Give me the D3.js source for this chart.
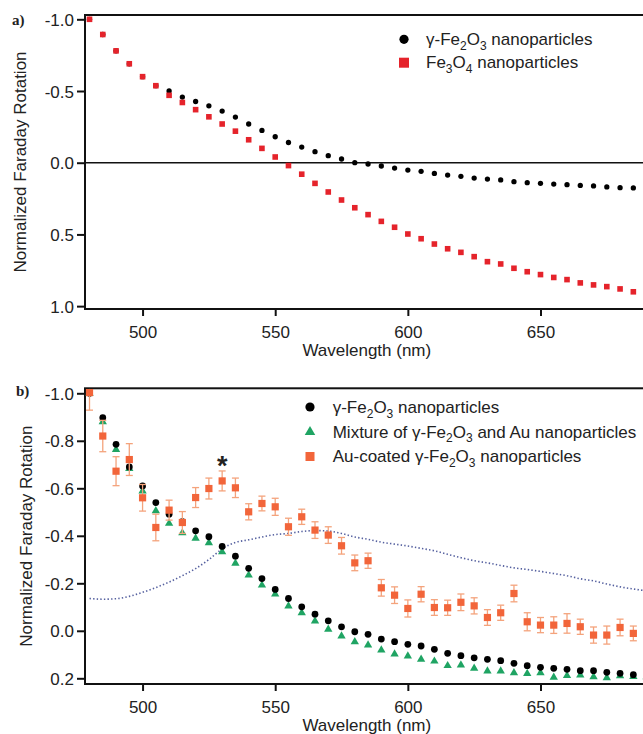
<!DOCTYPE html>
<html><head><meta charset="utf-8">
<script src="https://cdn.jsdelivr.net/npm/d3@7/dist/d3.min.js"></script>
<style>
body{margin:0;background:#fff}
svg{display:block}
text{font-family:"Liberation Sans",Arial,sans-serif;fill:#222}
</style>
</head><body>
<svg id="chart" width="643" height="734"></svg>
<script>
// ---------- data ----------
const wavelengths = [480,485,490,495,500,505,510,515,520,525,530,535,540,545,550,555,560,565,570,575,580,585,590,595,600,605,610,615,620,625,630,635,640,645,650,655,660,665,670,675,680,685,690];
const xTicks = [500,550,600,650];
const yTicksA = [-1.0,-0.5,0.0,0.5,1.0];
const yTickLabelsA = ["-1.0","-0.5","0.0","0.5","1.0"];
const yTicksB = [-1.0,-0.8,-0.6,-0.4,-0.2,0.0,0.2];
const yTickLabelsB = ["-1.0","-0.8","-0.6","-0.4","-0.2","0.0","0.2"];

// panel a
const gammaA = [-1.0,-0.894,-0.78,-0.69,-0.60,-0.537,-0.50,-0.458,-0.427,-0.397,-0.36,-0.318,-0.27,-0.225,-0.181,-0.141,-0.109,-0.077,-0.049,-0.026,0.0,0.009,0.023,0.037,0.051,0.06,0.075,0.086,0.095,0.107,0.114,0.12,0.132,0.139,0.144,0.149,0.153,0.158,0.162,0.169,0.174,0.176,0.18];
const magnetiteA = [-1.0,-0.894,-0.78,-0.69,-0.60,-0.537,-0.47,-0.42,-0.37,-0.32,-0.27,-0.22,-0.16,-0.10,-0.04,0.02,0.08,0.144,0.204,0.26,0.314,0.362,0.409,0.45,0.497,0.53,0.567,0.60,0.625,0.655,0.69,0.706,0.736,0.76,0.78,0.80,0.815,0.838,0.852,0.864,0.88,0.90,0.91];

// panel b
const gammaB = [-1.0,-0.897,-0.785,-0.69,-0.61,-0.54,-0.491,-0.46,-0.421,-0.396,-0.355,-0.314,-0.263,-0.22,-0.174,-0.136,-0.101,-0.07,-0.042,-0.017,0.004,0.015,0.035,0.046,0.057,0.064,0.078,0.095,0.105,0.114,0.12,0.126,0.137,0.147,0.154,0.158,0.162,0.168,0.168,0.175,0.179,0.185,0.19];
const mixtureB = [-1.0,-0.88,-0.763,-0.683,-0.588,-0.505,-0.452,-0.412,-0.389,-0.37,-0.332,-0.284,-0.234,-0.192,-0.154,-0.104,-0.076,-0.041,-0.006,0.022,0.046,0.06,0.081,0.098,0.106,0.12,0.128,0.147,0.144,0.158,0.17,0.17,0.177,0.18,0.177,0.196,0.189,0.186,0.194,0.198,0.19,0.193,0.194];
const coatedB = [-1.003,-0.82,-0.672,-0.721,-0.56,-0.435,-0.508,-0.456,-0.561,-0.599,-0.631,-0.602,-0.501,-0.536,-0.522,-0.438,-0.48,-0.424,-0.403,-0.358,-0.286,-0.295,-0.181,-0.15,-0.094,-0.154,-0.098,-0.097,-0.12,-0.105,-0.056,-0.076,-0.157,-0.038,-0.024,-0.024,-0.031,-0.017,0.018,0.018,-0.014,0.011,0.032];
const coatedErr = [0.074,0.066,0.061,0.067,0.056,0.056,0.042,0.046,0.042,0.044,0.042,0.041,0.034,0.031,0.036,0.036,0.032,0.035,0.035,0.035,0.033,0.032,0.035,0.035,0.036,0.032,0.033,0.032,0.035,0.034,0.033,0.032,0.035,0.038,0.032,0.035,0.041,0.032,0.034,0.038,0.035,0.031,0.035];
const absorbB = [-0.136,-0.133,-0.135,-0.145,-0.162,-0.182,-0.205,-0.232,-0.262,-0.30,-0.345,-0.372,-0.383,-0.395,-0.405,-0.41,-0.418,-0.422,-0.42,-0.41,-0.395,-0.385,-0.373,-0.365,-0.357,-0.347,-0.337,-0.322,-0.308,-0.295,-0.286,-0.275,-0.265,-0.258,-0.25,-0.241,-0.232,-0.219,-0.21,-0.197,-0.185,-0.176,-0.168];
const starWavelength = 530;

const legendA = [
  [["γ-Fe"],["2",1],["O"],["3",1],[" nanoparticles"]],
  [["Fe"],["3",1],["O"],["4",1],[" nanoparticles"]]
];
const legendB = [
  [["γ-Fe"],["2",1],["O"],["3",1],[" nanoparticles"]],
  [["Mixture of γ-Fe"],["2",1],["O"],["3",1],[" and Au nanoparticles"]],
  [["Au-coated γ-Fe"],["2",1],["O"],["3",1],[" nanoparticles"]]
];

// ---------- drawing ----------
const svg = d3.select("#chart");
const FS = 17;
const RED = "#e5232b", GREEN = "#1fa463", ORANGE = "#f2653a", ERR = "#f4a37c", BLUE = "#55609f";

const x = d3.scaleLinear().domain([478.3, 690]).range([85, 646.6]);
const yA = d3.scaleLinear().domain([-1.03, 1.02]).range([15, 309]);
const yB = d3.scaleLinear().domain([-1.021, 0.224]).range([388.3, 684]);

svg.append("defs").append("clipPath").attr("id","clipB").append("rect")
  .attr("x", 85).attr("y", 389).attr("width", 600).attr("height", 295);

function frame(top, bottom) {
  svg.append("rect").attr("x", x.range()[0]).attr("y", top)
    .attr("width", x.range()[1] - x.range()[0]).attr("height", bottom - top)
    .attr("fill", "none").attr("stroke", "#111").attr("stroke-width", 2);
}
function axes(y, ticks, labels, bottom, yTitleX) {
  const gy = svg.append("g").attr("transform", `translate(${x.range()[0]},0)`)
    .call(d3.axisLeft(y).tickValues(ticks).tickFormat((d,i)=>labels[i]).tickSize(8).tickPadding(3));
  gy.select(".domain").remove();
  gy.selectAll("line").attr("stroke","#111").attr("stroke-width",2);
  gy.selectAll("text").style("font-size", FS+"px").attr("fill","#222").attr("dy","0.36em");
  const gx = svg.append("g").attr("transform", `translate(0,${bottom})`)
    .call(d3.axisBottom(x).tickValues(xTicks).tickFormat(d3.format("d")).tickSize(7).tickPadding(10));
  gx.select(".domain").remove();
  gx.selectAll("line").attr("stroke","#111").attr("stroke-width",2);
  gx.selectAll("text").style("font-size", FS+"px").attr("fill","#222");
  svg.append("text").attr("x", (x.range()[0]+x.range()[1])/2 + 1).attr("y", bottom + 46.5)
    .attr("text-anchor","middle").style("font-size", FS+"px").text("Wavelength (nm)");
  svg.append("text").attr("transform", `translate(${yTitleX},${(y.range()[0]+y.range()[1])/2}) rotate(-90)`)
    .attr("text-anchor","middle").style("font-size", FS+"px").text("Normalized Faraday Rotation");
}
function richText(g, tx, ty, parts) {
  const t = g.append("text").attr("x", tx).attr("y", ty).style("font-size", FS+"px");
  let shifted = false;
  parts.forEach(p => {
    const ts = t.append("tspan").text(p[0]);
    if (p[1]) {
      ts.attr("dy", shifted ? 0 : 4.5).style("font-size", "12px");
      shifted = true;
    } else {
      if (shifted) ts.attr("dy", -4.5);
      shifted = false;
    }
  });
}

// ----- panel a -----
frame(15, 309);
svg.append("line").attr("x1", x.range()[0]).attr("x2", x.range()[1])
  .attr("y1", yA(0)).attr("y2", yA(0)).attr("stroke","#111").attr("stroke-width",1.5);
axes(yA, yTicksA, yTickLabelsA, 309, 26);

svg.append("g").selectAll("path").data(wavelengths).join("path")
  .attr("transform", (d,i)=>`translate(${x(d)},${yA(gammaA[i])})`)
  .attr("d", d3.symbol(d3.symbolCircle, 22)).attr("fill","#000");
svg.append("g").selectAll("rect").data(wavelengths).join("rect")
  .attr("x", d=>x(d)-2.8).attr("y",(d,i)=>yA(magnetiteA[i])-2.8)
  .attr("width",5.6).attr("height",5.6).attr("fill",RED);

const lgA = svg.append("g");
lgA.append("circle").attr("cx",404).attr("cy",39.3).attr("r",4.6).attr("fill","#000");
lgA.append("rect").attr("x",399).attr("y",57.7).attr("width",10).attr("height",10).attr("fill",RED);
richText(lgA, 426, 45, legendA[0]);
richText(lgA, 426, 68.3, legendA[1]);

svg.append("text").attr("x",12).attr("y",25).style("font-family","'Liberation Serif',serif")
  .style("font-weight","bold").style("font-size","15px").attr("fill","#111").text("a)");

// ----- panel b -----
frame(388.3, 684);
axes(yB, yTicksB, yTickLabelsB, 684, 31.5);

const line = d3.line().x((d,i)=>x(d)).y((d,i)=>yB(absorbB[i])).curve(d3.curveMonotoneX);
svg.append("path").datum(wavelengths).attr("d", line).attr("fill","none")
  .attr("stroke", BLUE).attr("stroke-width",1.6).attr("stroke-dasharray","1.4,2.2");

svg.append("g").selectAll("path").data(wavelengths).join("path")
  .attr("transform", (d,i)=>`translate(${x(d)},${yB(mixtureB[i])})`)
  .attr("d", d3.symbol(d3.symbolTriangle, 30)).attr("fill",GREEN);
svg.append("g").selectAll("path").data(wavelengths).join("path")
  .attr("transform", (d,i)=>`translate(${x(d)},${yB(gammaB[i])})`)
  .attr("d", d3.symbol(d3.symbolCircle, 36)).attr("fill","#000");

const eb = svg.append("g").attr("stroke", ERR).attr("stroke-width",1.3).attr("clip-path","url(#clipB)");
wavelengths.forEach((d,i)=>{
  const cx = x(d), y1 = yB(coatedB[i]-coatedErr[i]), y2 = yB(coatedB[i]+coatedErr[i]);
  eb.append("line").attr("x1",cx).attr("x2",cx).attr("y1",y1).attr("y2",y2);
  eb.append("line").attr("x1",cx-3.5).attr("x2",cx+3.5).attr("y1",y1).attr("y2",y1);
  eb.append("line").attr("x1",cx-3.5).attr("x2",cx+3.5).attr("y1",y2).attr("y2",y2);
});
svg.append("g").selectAll("rect").data(wavelengths).join("rect")
  .attr("x", d=>x(d)-3.6).attr("y",(d,i)=>yB(coatedB[i])-3.6)
  .attr("width",7.2).attr("height",7.2).attr("fill",ORANGE);

const si = wavelengths.indexOf(starWavelength);
svg.append("text").attr("x", x(starWavelength)).attr("y", yB(coatedB[si]) - 6)
  .attr("text-anchor","middle").style("font-size","27px").style("font-weight","bold")
  .attr("fill","#111").text("*");

const lgB = svg.append("g");
lgB.append("circle").attr("cx",310).attr("cy",407).attr("r",4.6).attr("fill","#000");
lgB.append("path").attr("transform","translate(310,432)").attr("d", d3.symbol(d3.symbolTriangle, 48)).attr("fill",GREEN);
lgB.append("rect").attr("x",305.5).attr("y",452).attr("width",9).attr("height",9).attr("fill",ORANGE);
richText(lgB, 332.7, 413, legendB[0]);
richText(lgB, 332.7, 437.5, legendB[1]);
richText(lgB, 332.7, 462, legendB[2]);

svg.append("text").attr("x",16).attr("y",396).style("font-family","'Liberation Serif',serif")
  .style("font-weight","bold").style("font-size","15px").attr("fill","#111").text("b)");
</script>
</body></html>
